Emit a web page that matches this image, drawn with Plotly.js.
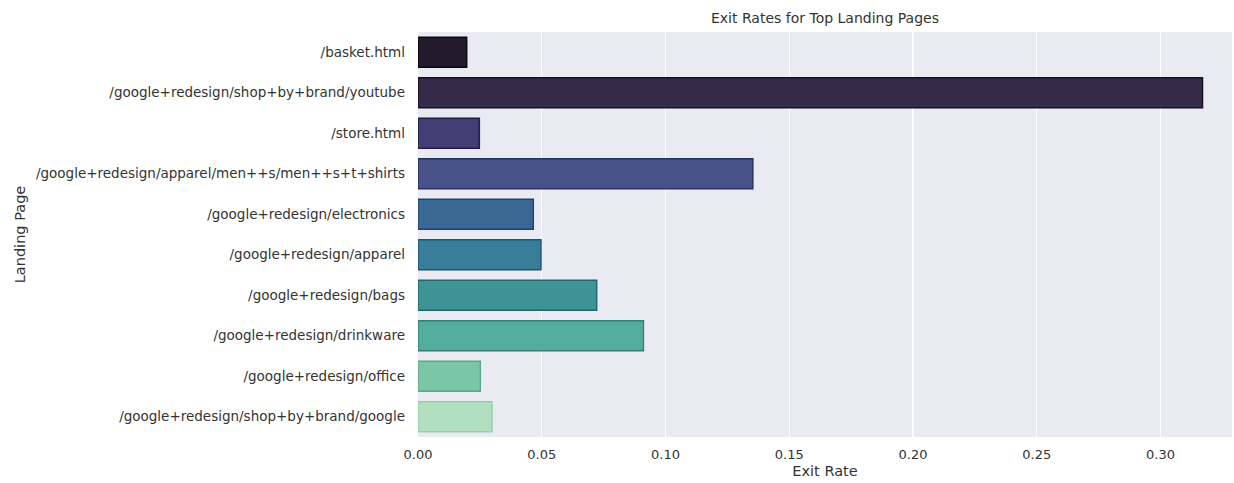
<!DOCTYPE html>
<html>
<head>
<meta charset="utf-8">
<script src="https://cdn.plot.ly/plotly-3.0.1.min.js"></script>
<style>html,body{margin:0;padding:0;background:#fff;}#chart{width:1234px;height:483px;}</style>
</head>
<body>
<div id="chart"></div>
<script>
// Data
const landingPages = [
  "/basket.html",
  "/google+redesign/shop+by+brand/youtube",
  "/store.html",
  "/google+redesign/apparel/men++s/men++s+t+shirts",
  "/google+redesign/electronics",
  "/google+redesign/apparel",
  "/google+redesign/bags",
  "/google+redesign/drinkware",
  "/google+redesign/office",
  "/google+redesign/shop+by+brand/google"
];
const exitRates = [0.0197, 0.3170, 0.0248, 0.1353, 0.0466, 0.0497, 0.0722, 0.0911, 0.0252, 0.0299];

// Styles
const fillColors = ["#231a2b", "#352a48", "#433e73", "#485289", "#3b6794", "#3a7d9a", "#3d9396", "#52ad9f", "#79c7a5", "#b1e0c0"];
const edgeColors = ["#0c070f", "#170f22", "#221c44", "#27305e", "#1f4469", "#1d566d", "#1e6667", "#357f72", "#5ca687", "#98cdab"];

const trace = {
  type: "bar",
  orientation: "h",
  x: exitRates,
  y: landingPages,
  width: 0.74,
  marker: { color: fillColors, line: { color: edgeColors, width: 1.4 } },
  hoverinfo: "x+y"
};

const font = "DejaVu Sans, sans-serif";
const layout = {
  width: 1234,
  height: 483,
  margin: { l: 418, r: 2, t: 32, b: 46 },
  paper_bgcolor: "#ffffff",
  plot_bgcolor: "#eaeaf2",
  showlegend: false,
  font: { family: font, size: 13, color: "#333333" },
  title: {
    text: "Exit Rates for Top Landing Pages",
    x: 0.5, xref: "paper", xanchor: "center",
    y: 1, yref: "paper", yanchor: "bottom", pad: { b: 9 },
    font: { family: font, size: 14, color: "#333333" }
  },
  xaxis: {
    range: [0, 0.3289],
    tickvals: [0, 0.05, 0.10, 0.15, 0.20, 0.25, 0.30],
    ticktext: ["0.00", "0.05", "0.10", "0.15", "0.20", "0.25", "0.30"],
    showgrid: true, gridcolor: "#ffffff", gridwidth: 1.3,
    zeroline: false, showline: false, ticks: "",
    ticklabelstandoff: 8,
    tickfont: { family: font, size: 13, color: "#333333" },
    title: { text: "Exit Rate", standoff: 4, font: { family: font, size: 14.5, color: "#333333" } }
  },
  yaxis: {
    type: "category",
    categoryorder: "array",
    categoryarray: landingPages,
    autorange: "reversed",
    showgrid: false, zeroline: false, showline: false, ticks: "",
    ticklabelstandoff: 12,
    tickfont: { family: font, size: 13.5, color: "#333333" },
    title: { text: "Landing Page", standoff: 6, font: { family: font, size: 14.5, color: "#333333" } }
  }
};

Plotly.newPlot("chart", [trace], layout, { displayModeBar: false, staticPlot: true });
</script>
</body>
</html>
